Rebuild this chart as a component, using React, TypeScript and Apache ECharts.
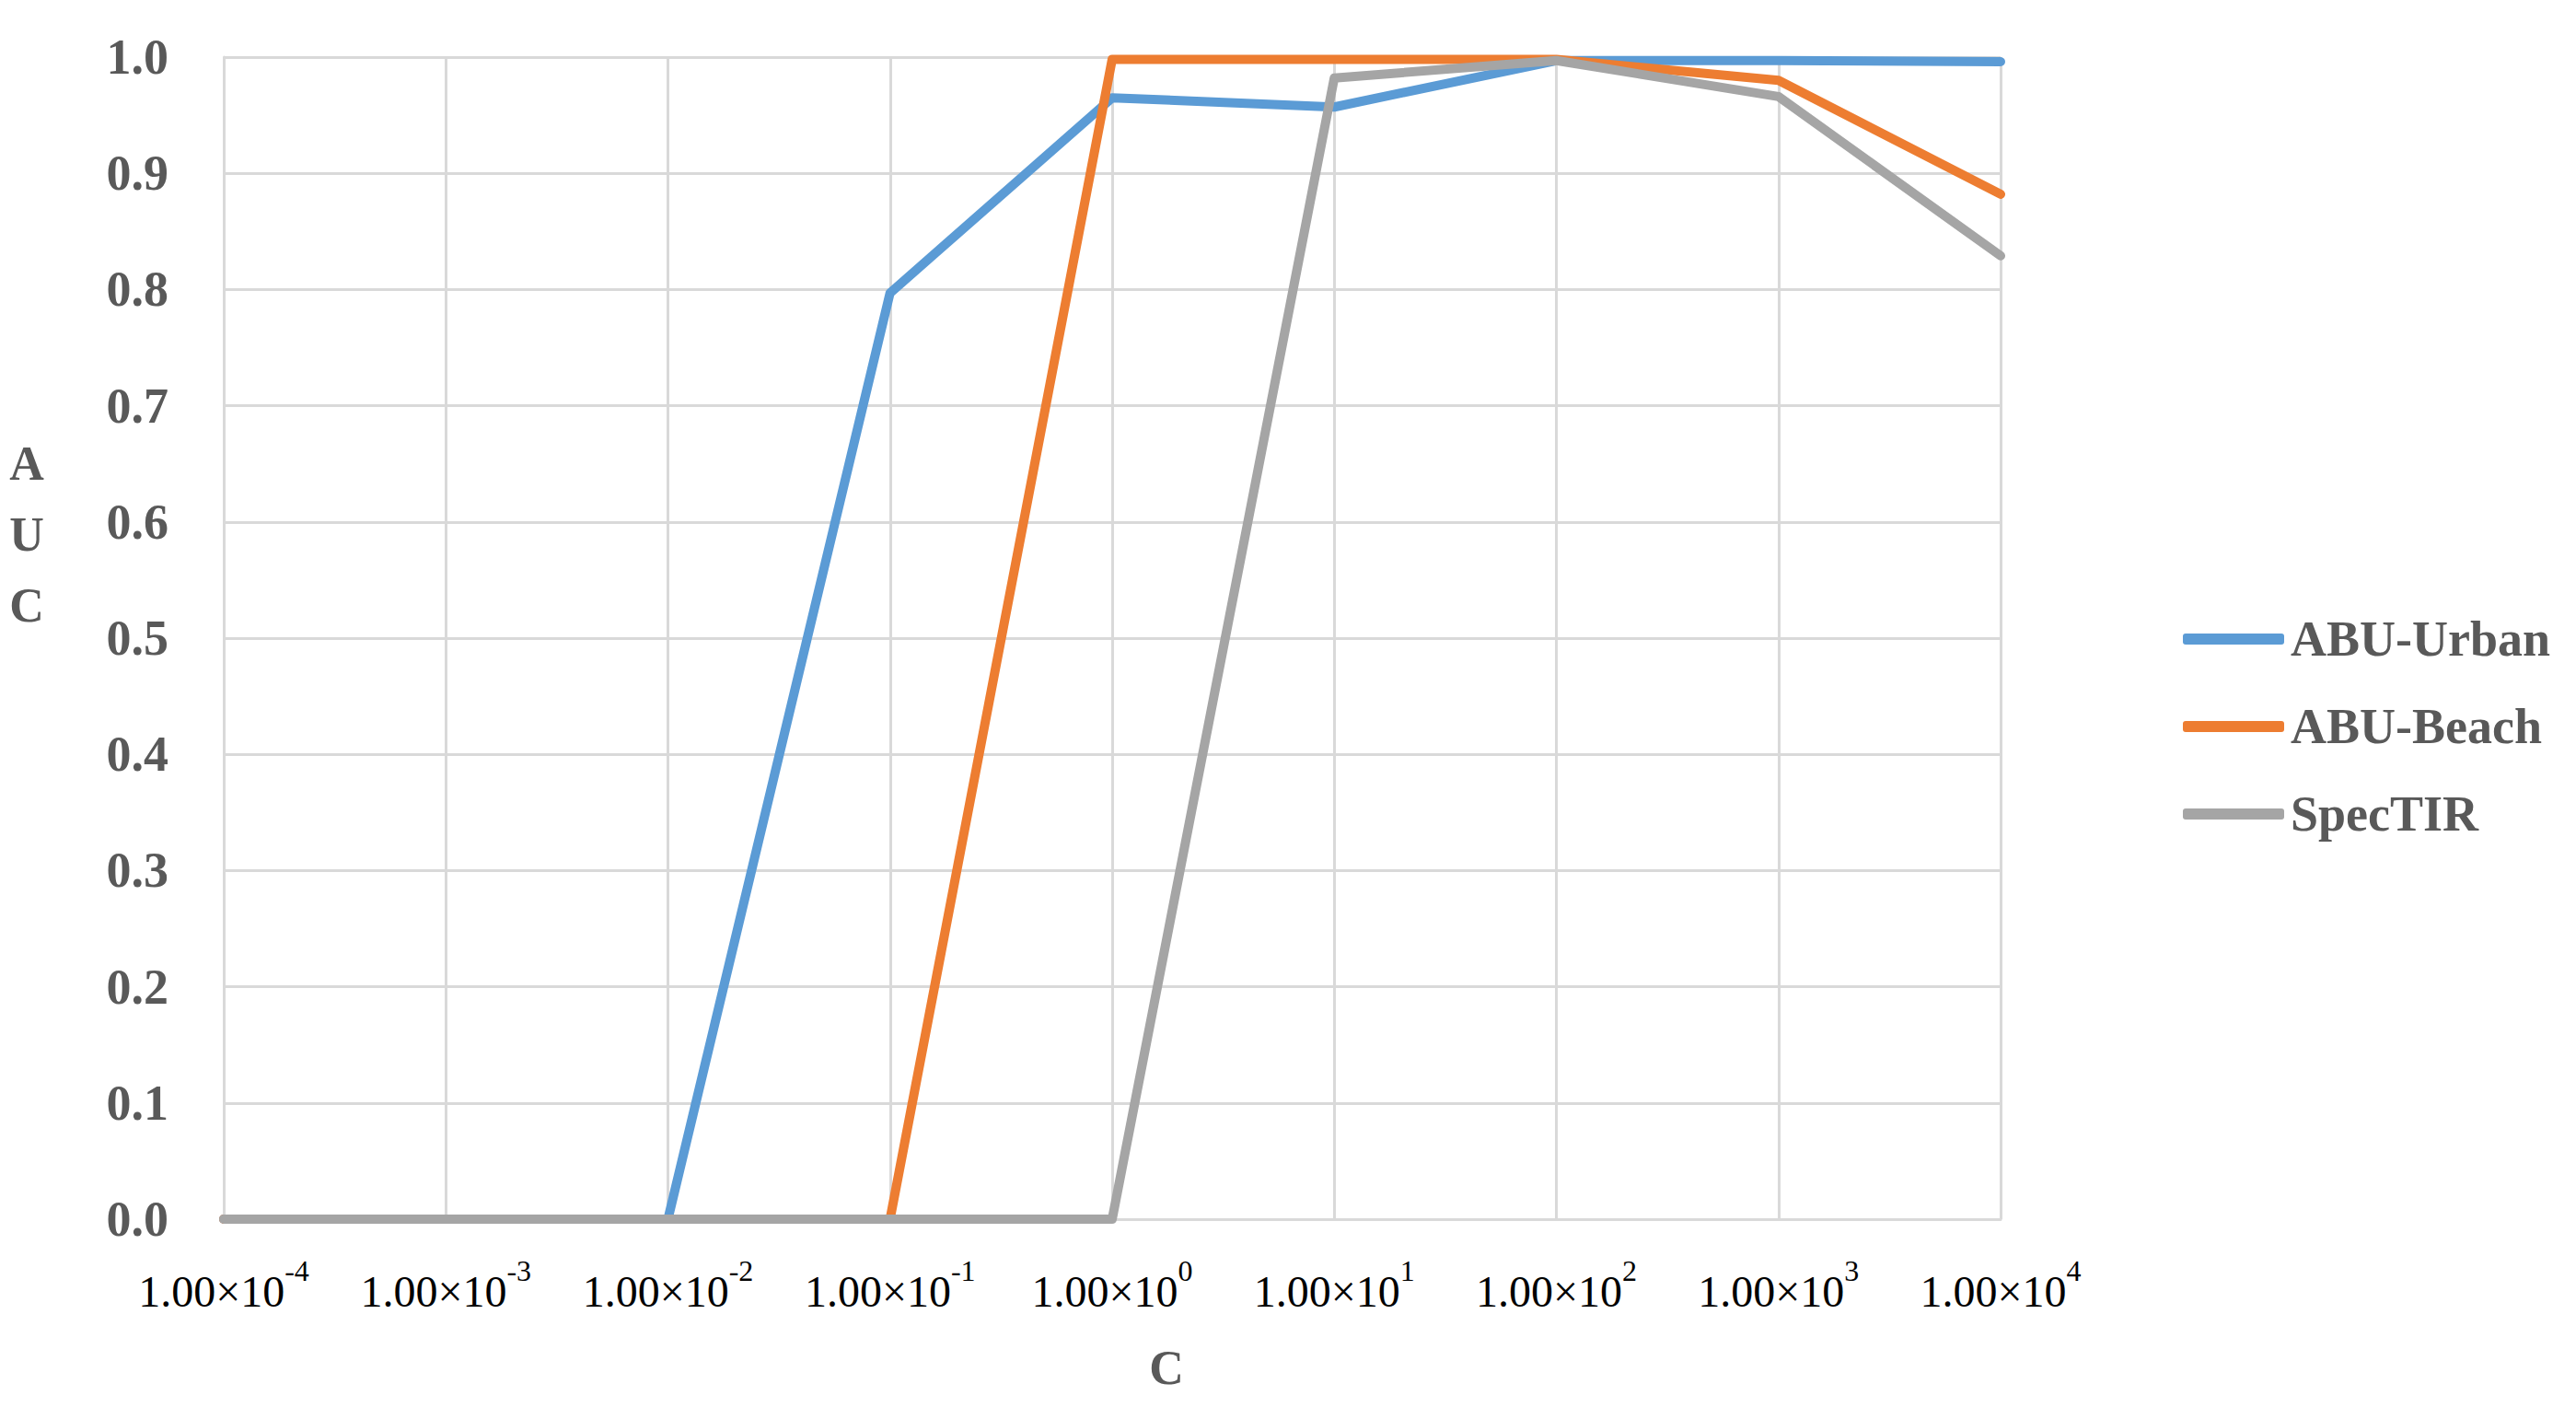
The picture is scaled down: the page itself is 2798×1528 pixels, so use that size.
import React, { useEffect, useRef } from "react";
import * as echarts from "echarts";

const exponents = ["-4", "-3", "-2", "-1", "0", "1", "2", "3", "4"];
const seriesNames = ["ABU-Urban", "ABU-Beach", "SpecTIR"];
const urban = [0, 0, 0, 0.797, 0.965, 0.957, 0.997, 0.997, 0.996];
const beach = [0, 0, 0, 0, 0.998, 0.998, 0.998, 0.98, 0.882];
const spectir = [0, 0, 0, 0, 0, 0.982, 0.997, 0.966, 0.829];
const colors = ["#5b9bd5", "#ed7d31", "#a5a5a5"];

const FONT = "Liberation Serif";

export default function App() {
  const ref = useRef<HTMLDivElement>(null);
  useEffect(() => {
    if (!ref.current) return;
    const chart = echarts.init(ref.current, undefined, { renderer: "svg" });
    const mk = (name: string, data: number[], color: string) => ({
      name,
      type: "line",
      data,
      showSymbol: false,
      symbol: "none",
      color,
      lineStyle: { width: 10, color, cap: "round", join: "round" },
    });
    chart.setOption({
      animation: false,
      backgroundColor: "#ffffff",
      textStyle: { fontFamily: FONT },
      grid: { left: 243, right: 625, top: 62, bottom: 204, containLabel: false },
      xAxis: {
        type: "category",
        data: exponents,
        boundaryGap: false,
        axisLine: { show: true, lineStyle: { color: "#d9d9d9", width: 3 } },
        axisTick: { show: false },
        splitLine: { show: true, lineStyle: { color: "#d9d9d9", width: 3 } },
        axisLabel: {
          margin: 40,
          formatter: (v: string) => `{b|1.00×10}{s|${v}}`,
          rich: {
            b: { fontFamily: FONT, fontSize: 48, lineHeight: 62, color: "#000000", verticalAlign: "bottom" },
            s: { fontFamily: FONT, fontSize: 32, lineHeight: 32, color: "#000000", verticalAlign: "top" },
          },
        },
      },
      yAxis: {
        type: "value",
        min: 0,
        max: 1,
        interval: 0.1,
        axisLine: { show: true, lineStyle: { color: "#d9d9d9", width: 3 } },
        axisTick: { show: false },
        splitLine: { show: true, lineStyle: { color: "#d9d9d9", width: 3 } },
        axisLabel: {
          margin: 60,
          formatter: (v: number) => v.toFixed(1),
          fontFamily: FONT,
          fontWeight: "bold",
          fontSize: 54,
          color: "#595959",
        },
      },
      legend: {
        orient: "vertical",
        left: 2366,
        top: 662,
        itemWidth: 110,
        itemHeight: 12,
        itemGap: 41,
        icon: "roundRect",
        data: seriesNames,
        textStyle: {
          fontFamily: FONT,
          fontWeight: "bold",
          fontSize: 54,
          lineHeight: 54,
          color: "#595959",
          padding: [0, 0, 0, 2],
        },
      },
      graphic: [
        {
          type: "text",
          x: 29,
          y: 580,
          style: {
            text: "A\nU\nC",
            fontFamily: FONT,
            fontWeight: "bold",
            fontSize: 52,
            lineHeight: 77,
            fill: "#595959",
            textAlign: "center",
            textVerticalAlign: "middle",
          },
        },
        {
          type: "text",
          x: 1267,
          y: 1485,
          style: {
            text: "C",
            fontFamily: FONT,
            fontWeight: "bold",
            fontSize: 52,
            fill: "#595959",
            textAlign: "center",
            textVerticalAlign: "middle",
          },
        },
      ],
      series: [
        mk(seriesNames[0], urban, colors[0]),
        mk(seriesNames[1], beach, colors[1]),
        mk(seriesNames[2], spectir, colors[2]),
      ],
    });
    return () => chart.dispose();
  }, []);
  return (
    <div
      ref={ref}
      style={{ position: "absolute", left: 0, top: 0, width: 2798, height: 1528 }}
    />
  );
}
